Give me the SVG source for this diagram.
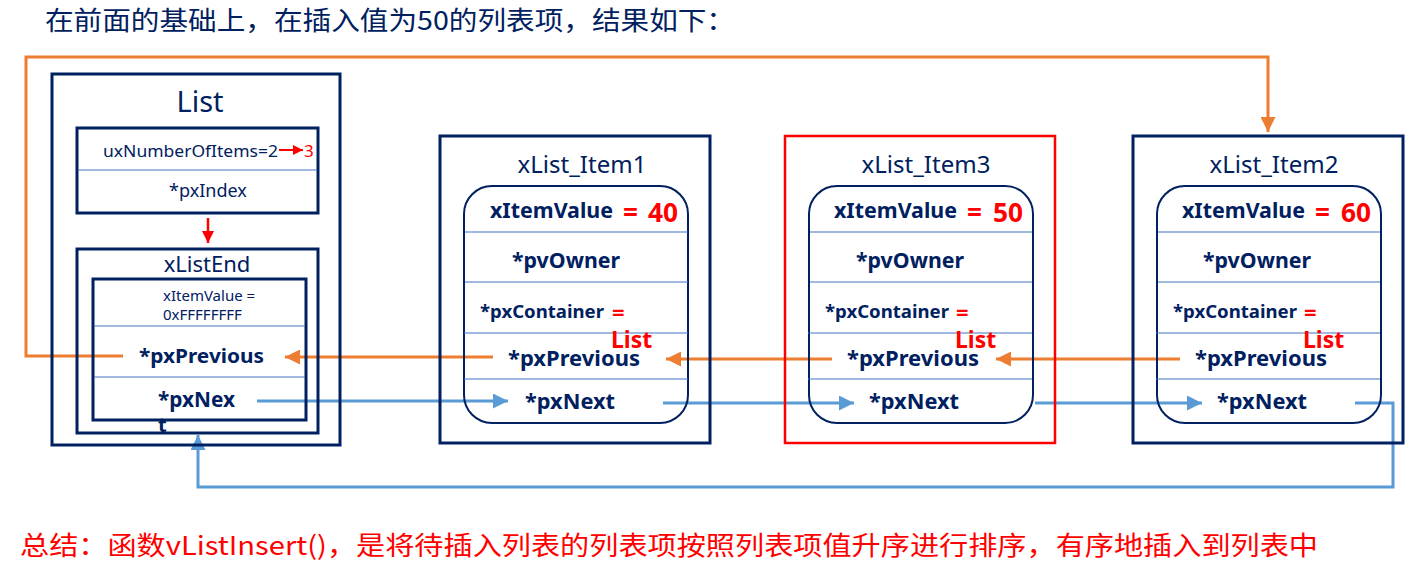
<svg xmlns="http://www.w3.org/2000/svg" width="1425" height="576" viewBox="0 0 1425 576">
<style>
.box{fill:none;stroke:#002060;stroke-width:3}
.rbox{fill:none;stroke:#002060;stroke-width:2}
.div{stroke:#4472C4;stroke-width:1.2}
.t{font-family:"Noto Sans","Liberation Sans",sans-serif;fill:#002060}
.b{font-weight:bold}
.r{fill:#FF0000}
.cn{font-family:"Noto Sans CJK SC","Noto Sans",sans-serif}
.or{fill:none;stroke:#ED7D31;stroke-width:3}
.bl{fill:none;stroke:#5B9BD5;stroke-width:3}
</style>
<defs>
<marker id="ao" viewBox="0 0 10 10" refX="10" refY="5" markerWidth="5" markerHeight="5" orient="auto" markerUnits="strokeWidth"><path d="M0,0 L10,5 L0,10 z" fill="#ED7D31"/></marker>
<marker id="ab" viewBox="0 0 10 10" refX="10" refY="5" markerWidth="5" markerHeight="5" orient="auto" markerUnits="strokeWidth"><path d="M0,0 L10,5 L0,10 z" fill="#5B9BD5"/></marker>
<marker id="ar" viewBox="0 0 10 10" refX="10" refY="5" markerWidth="5" markerHeight="5" orient="auto" markerUnits="strokeWidth"><path d="M0,0 L10,5 L0,10 z" fill="#FF0000"/></marker>
</defs>
<rect width="1425" height="576" fill="#ffffff"/>
<text class="t cn" x="45" y="30" font-size="26" textLength="690" lengthAdjust="spacingAndGlyphs">在前面的基础上，在插入值为50的列表项，结果如下：</text>

<g id="connectors">
<polyline class="or" points="123,356 26,356 26,57 1268,57 1268,132" marker-end="url(#ao)"/>
<line class="or" x1="493" y1="357" x2="285" y2="357" marker-end="url(#ao)"/>
<line class="or" x1="832" y1="359" x2="666" y2="359" marker-end="url(#ao)"/>
<line class="or" x1="1180" y1="359" x2="996" y2="359" marker-end="url(#ao)"/>
<line class="bl" x1="257" y1="401" x2="508" y2="401" marker-end="url(#ab)"/>
<line class="bl" x1="663" y1="403" x2="854" y2="403" marker-end="url(#ab)"/>
<line class="bl" x1="1035" y1="403" x2="1202" y2="403" marker-end="url(#ab)"/>
<polyline class="bl" points="1355,403 1393,403 1393,487 198,487 198,435" marker-end="url(#ab)"/>
<line x1="208" y1="218" x2="208" y2="243" stroke="#FF0000" stroke-width="2.5" marker-end="url(#ar)"/>
<line x1="279" y1="150" x2="303" y2="150" stroke="#FF0000" stroke-width="2" marker-end="url(#ar)"/>
</g>

<g id="list">
<rect class="box" x="52" y="74" width="288" height="371" fill="none"/>
<text class="t" x="200" y="112" font-size="29" text-anchor="middle">List</text>
<rect class="box" x="77" y="128" width="241" height="85"/>
<line class="div" x1="78" y1="170" x2="317" y2="170"/>
<text class="t" x="103" y="157" font-size="16" textLength="175" lengthAdjust="spacingAndGlyphs">uxNumberOfItems=2</text>
<text class="t r" x="304" y="157" font-size="17">3</text>
<text class="t" x="208" y="197" font-size="18" text-anchor="middle">*pxIndex</text>
<rect class="box" x="77" y="249" width="241" height="184"/>
<text class="t" x="207" y="272" font-size="22" text-anchor="middle">xListEnd</text>
<rect class="box" x="93" y="279" width="213" height="141"/>
<line class="div" x1="94" y1="326" x2="305" y2="326"/>
<line class="div" x1="94" y1="377" x2="305" y2="377"/>
<text class="t" x="163" y="301" font-size="15">xItemValue =</text>
<text class="t" x="163" y="320" font-size="15">0xFFFFFFFF</text>
<text class="t b" x="139" y="363" font-size="20" textLength="125" lengthAdjust="spacingAndGlyphs">*pxPrevious</text>
<text class="t b" x="158" y="407" font-size="21" textLength="77" lengthAdjust="spacingAndGlyphs">*pxNex</text>
<text class="t b" x="158" y="432" font-size="20">t</text>
</g>

<g id="item1">
<rect class="box" x="440" y="136" width="270" height="307"/>
<text class="t" x="582" y="173" font-size="24" text-anchor="middle">xList_Item1</text>
<rect class="rbox" x="464" y="186" width="224" height="237" rx="28"/>
<line class="div" x1="465" y1="232" x2="688" y2="232"/>
<line class="div" x1="465" y1="282" x2="688" y2="282"/>
<line class="div" x1="464" y1="333" x2="688" y2="333"/>
<line class="div" x1="464" y1="379" x2="688" y2="379"/>
<text class="t b" x="490" y="218" font-size="21" textLength="123" lengthAdjust="spacingAndGlyphs">xItemValue</text>
<text class="t b r" x="623" y="222" font-size="26">=</text>
<text class="t b r" x="648" y="222" font-size="26" textLength="30" lengthAdjust="spacingAndGlyphs">40</text>
<text class="t b" x="512" y="268" font-size="21" textLength="108" lengthAdjust="spacingAndGlyphs">*pvOwner</text>
<text class="t b" x="480" y="318" font-size="17" textLength="124" lengthAdjust="spacingAndGlyphs">*pxContainer</text>
<text class="t b r" x="612" y="320" font-size="22">=</text>
<text class="t b r" x="611" y="348" font-size="23">List</text>
<text class="t b" x="508" y="366" font-size="21" textLength="132" lengthAdjust="spacingAndGlyphs">*pxPrevious</text>
<text class="t b" x="525" y="409" font-size="21" textLength="90" lengthAdjust="spacingAndGlyphs">*pxNext</text>
</g>

<g id="item3">
<rect x="785" y="136" width="270" height="307" fill="none" stroke="#FF0000" stroke-width="2.5"/>
<text class="t" x="926" y="173" font-size="24" text-anchor="middle">xList_Item3</text>
<rect class="rbox" x="809" y="186" width="224" height="237" rx="28"/>
<line class="div" x1="810" y1="232" x2="1032" y2="232"/>
<line class="div" x1="810" y1="282" x2="1032" y2="282"/>
<line class="div" x1="808" y1="333" x2="1032" y2="333"/>
<line class="div" x1="808" y1="379" x2="1032" y2="379"/>
<text class="t b" x="834" y="218" font-size="21" textLength="123" lengthAdjust="spacingAndGlyphs">xItemValue</text>
<text class="t b r" x="967" y="222" font-size="26">=</text>
<text class="t b r" x="993" y="222" font-size="26" textLength="30" lengthAdjust="spacingAndGlyphs">50</text>
<text class="t b" x="856" y="268" font-size="21" textLength="108" lengthAdjust="spacingAndGlyphs">*pvOwner</text>
<text class="t b" x="825" y="318" font-size="17" textLength="124" lengthAdjust="spacingAndGlyphs">*pxContainer</text>
<text class="t b r" x="956" y="320" font-size="22">=</text>
<text class="t b r" x="955" y="348" font-size="23">List</text>
<text class="t b" x="847" y="366" font-size="21" textLength="132" lengthAdjust="spacingAndGlyphs">*pxPrevious</text>
<text class="t b" x="869" y="409" font-size="21" textLength="90" lengthAdjust="spacingAndGlyphs">*pxNext</text>
</g>

<g id="item2">
<rect class="box" x="1133" y="136" width="270" height="307"/>
<text class="t" x="1274" y="173" font-size="24" text-anchor="middle">xList_Item2</text>
<rect class="rbox" x="1157" y="186" width="224" height="237" rx="28"/>
<line class="div" x1="1158" y1="232" x2="1380" y2="232"/>
<line class="div" x1="1158" y1="282" x2="1380" y2="282"/>
<line class="div" x1="1156" y1="333" x2="1380" y2="333"/>
<line class="div" x1="1156" y1="379" x2="1380" y2="379"/>
<text class="t b" x="1182" y="218" font-size="21" textLength="123" lengthAdjust="spacingAndGlyphs">xItemValue</text>
<text class="t b r" x="1315" y="222" font-size="26">=</text>
<text class="t b r" x="1341" y="222" font-size="26" textLength="30" lengthAdjust="spacingAndGlyphs">60</text>
<text class="t b" x="1203" y="268" font-size="21" textLength="108" lengthAdjust="spacingAndGlyphs">*pvOwner</text>
<text class="t b" x="1173" y="318" font-size="17" textLength="124" lengthAdjust="spacingAndGlyphs">*pxContainer</text>
<text class="t b r" x="1304" y="320" font-size="22">=</text>
<text class="t b r" x="1303" y="348" font-size="23">List</text>
<text class="t b" x="1195" y="366" font-size="21" textLength="132" lengthAdjust="spacingAndGlyphs">*pxPrevious</text>
<text class="t b" x="1217" y="409" font-size="21" textLength="90" lengthAdjust="spacingAndGlyphs">*pxNext</text>
</g>

<text class="t cn r" x="20" y="555" font-size="26" textLength="1298" lengthAdjust="spacingAndGlyphs">总结：函数vListInsert()，是将待插入列表的列表项按照列表项值升序进行排序，有序地插入到列表中</text>
</svg>
